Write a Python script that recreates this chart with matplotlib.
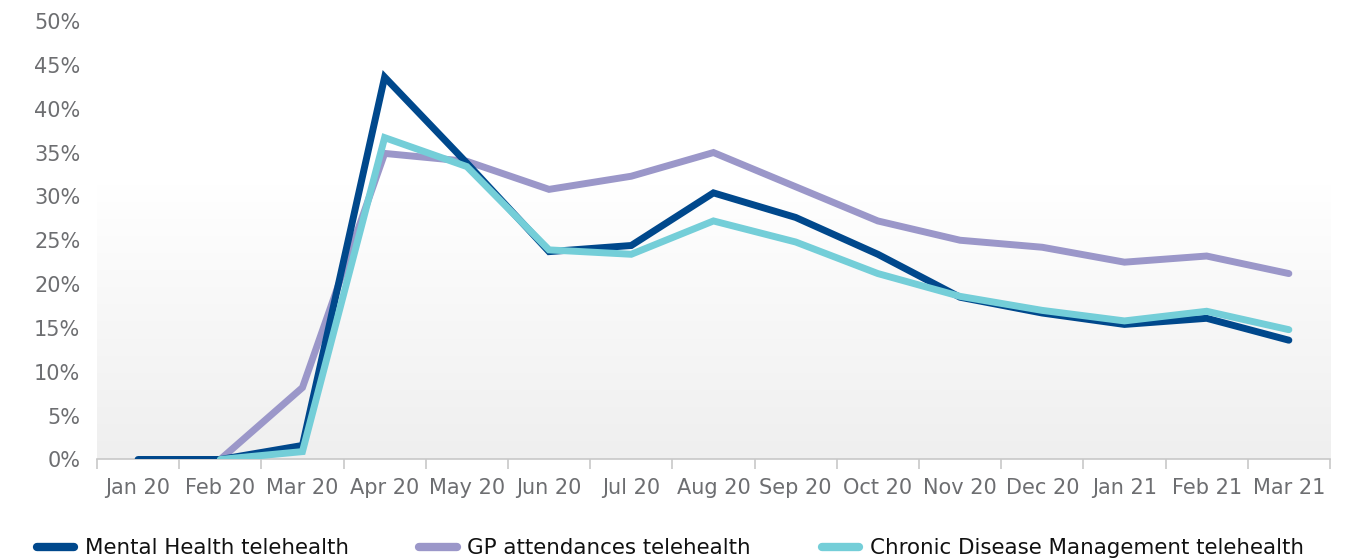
import numpy as np
import matplotlib as mpl
mpl.use('Agg')
import matplotlib.pyplot as plt
from matplotlib.colors import LinearSegmentedColormap

months = ['Jan 20','Feb 20','Mar 20','Apr 20','May 20','Jun 20','Jul 20','Aug 20',
          'Sep 20','Oct 20','Nov 20','Dec 20','Jan 21','Feb 21','Mar 21']

# share of services delivered by telehealth (%)
mental_health = [0.0, 0.0, 1.6, 43.6, 33.8, 23.7, 24.4, 30.4, 27.6, 23.4, 18.5, 16.7, 15.4, 16.1, 13.6]
gp_attend = [np.nan, 0.0, 8.2, 34.9, 34.0, 30.8, 32.3, 35.0, 31.1, 27.2, 25.0, 24.2, 22.5, 23.2, 21.2]
chronic_dm = [np.nan, 0.0, 0.9, 36.7, 33.4, 23.9, 23.4, 27.2, 24.8, 21.2, 18.6, 17.0, 15.8, 16.9, 14.8]

series_names = ['Mental Health telehealth','GP attendances telehealth',
                'Chronic Disease Management telehealth']
colors = ['#00488c','#9b97c9','#74ced8']

plt.rcParams['font.family'] = ['DejaVu Sans']

fig = plt.figure(figsize=(13.52,5.6), dpi=100)
ax = fig.add_axes([0.0717, 0.1795, 0.9120, 0.783])

x = np.arange(len(months))
ax.set_xlim(-0.5, len(months)-0.5)
ax.set_ylim(0, 50)

# soft grey fade in the lower part of the plot area
cmap = LinearSegmentedColormap.from_list('fade', ['#ffffff','#efefef'])
grad = np.linspace(0, 1, 256).reshape(-1, 1)
ax.imshow(grad, cmap=cmap, aspect='auto', origin='upper',
          extent=[-0.5, len(months)-0.5, 0, 31.3], zorder=0)

lines = {}
for data, name, col, z in [(mental_health, series_names[0], colors[0], 3),
                           (gp_attend, series_names[1], colors[1], 2),
                           (chronic_dm, series_names[2], colors[2], 4)]:
    ln, = ax.plot(x, data, color=col, lw=5, solid_capstyle='round',
                  solid_joinstyle='miter', zorder=z, label=name)
    lines[name] = ln

for s in ['left','top','right']:
    ax.spines[s].set_visible(False)
ax.spines['bottom'].set_color('#c8c8c8')
ax.spines['bottom'].set_linewidth(1.2)
ax.spines['bottom'].set_zorder(1)

ax.set_yticks(np.arange(0, 51, 5))
ax.set_yticklabels(['%d%%' % v for v in range(0, 51, 5)])
ax.tick_params(axis='y', length=0, pad=12, labelsize=15, labelcolor='#6d6e71')

ax.set_xticks(x)
ax.set_xticklabels(months)
ax.set_xticks(np.arange(-0.5, len(months)), minor=True)
ax.tick_params(axis='x', which='major', length=0, pad=13, labelsize=15, labelcolor='#6d6e71')
ax.tick_params(axis='x', which='minor', length=7, width=1.2, color='#c8c8c8')

leg = fig.legend([lines[n] for n in series_names], series_names, loc='center left',
                 bbox_to_anchor=(0.027, 0.021), ncol=3, frameon=False, fontsize=15.4,
                 handlelength=1.75, handletextpad=0.5, columnspacing=3.3,
                 borderpad=0, borderaxespad=0)
for t in leg.get_texts():
    t.set_color('#111111')
for h in leg.legend_handles:
    h.set_linewidth(6)

fig.savefig('out.png', dpi=100)
plt.close()
